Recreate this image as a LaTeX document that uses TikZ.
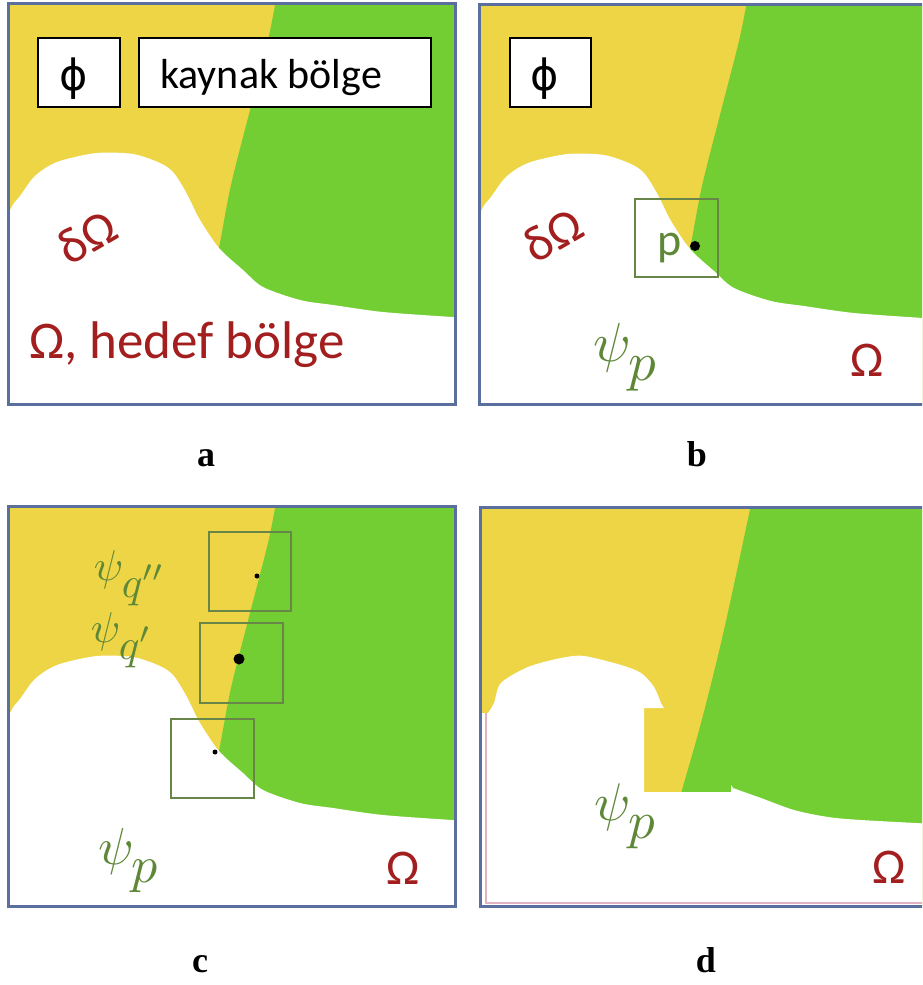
\documentclass[tikz,border=0pt]{standalone}
\usepackage{fontspec}
\setmainfont{Carlito}
\newfontfamily\capfont{Liberation Serif}
\newfontfamily\phifont{DejaVu Sans}

\definecolor{sand}{RGB}{237,213,70}
\definecolor{leaf}{RGB}{115,206,52}
\definecolor{framec}{RGB}{91,111,158}
\definecolor{probec}{RGB}{104,134,72}
\definecolor{omegared}{RGB}{163,30,30}
\definecolor{psigreen}{RGB}{94,136,56}
\definecolor{seam}{RGB}{226,178,194}

% source/target split shared by panels a, b, c (panel-a coordinates)
\newcommand{\SourceSplit}{plot[smooth] coordinates {(276,0) (268,40) (250,110) (231,185) (219,248) (208,300)} -- (208,420) -- (470,420) -- (470,0) -- cycle}
\newcommand{\TargetHole}{(0,212) -- plot[smooth] coordinates {(9,212) (14,203) (20,196) (33,178) (47,167) (63,160) (97,153) (133,154) (160,163) (173,172) (183,187) (190,200) (200,220) (219,248) (243,270) (263,287) (300,300) (333,305) (383,312) (452,317) (470,318)} -- (470,420) -- (0,420) -- cycle}
% green psi with a lowered subscript
\newcommand{\psisub}[1]{$\psi_{\lower2pt\hbox{$#1$}}$}

\begin{document}
\begin{tikzpicture}[x=1pt,y=-1pt,
  panelframe/.style={draw=framec, line width=3pt},
  tagbox/.style={draw=black, line width=2pt, fill=white},
  probebox/.style={draw=probec, line width=1.6pt},
  tagtext/.style={font=\fontsize{42}{50}\selectfont, inner sep=0pt},
  phitext/.style={font=\phifont\fontsize{43}{50}\selectfont, inner sep=0pt},
  redlbl/.style={text=omegared, font=\fontsize{50}{60}\selectfont, inner sep=0pt},
  psilbl/.style={text=psigreen, inner sep=0pt, anchor=base west},
  caplbl/.style={font=\capfont\bfseries\fontsize{36}{42}\selectfont, inner sep=0pt, anchor=base},
  seed/.style={circle, fill=black, inner sep=0pt}]
\useasboundingbox (0,0) rectangle (922,985);
\clip (0,0) rectangle (922,985);

% ---------- panel a ----------
\begin{scope}
  \clip (10,5) rectangle (454,403);
  \fill[sand] (0,0) rectangle (470,420);
  \fill[leaf] \SourceSplit;
  \fill[white] \TargetHole;
\end{scope}
\draw[panelframe] (8.5,3.5) rectangle (455.5,404.5);
\draw[tagbox] (38,38) rectangle (120,107);
\draw[tagbox] (139,38) rectangle (431,107);
\node[phitext] (phiA) at (74,79) {ϕ};
\node[tagtext, anchor=base west] (srcA) at (160,88) {kaynak bölge};
\node[redlbl, rotate=30] (bndA) at (87,237) {δΩ};
\node[redlbl, font=\fontsize{53}{62}\selectfont, anchor=base west] (tgtA) at (29,358) {Ω, hedef bölge};
\node[caplbl] (capA) at (206,466) {a};

% ---------- panel b ----------
\begin{scope}[shift={(471,1)}]
  \clip (10,5) rectangle (470,403);
  \fill[sand] (0,0) rectangle (470,420);
  \fill[leaf] \SourceSplit;
  \fill[white] \TargetHole;
\end{scope}
\draw[panelframe] (479.5,4.5) rectangle (930,404.5);
\draw[tagbox] (510,38) rectangle (591,107);
\node[phitext] (phiB) at (545,79) {ϕ};
\node[redlbl, rotate=30] (bndB) at (553,235) {δΩ};
\draw[probebox] (635,199) rectangle (718,277);
\node[font=\fontsize{46}{54}\selectfont, text=psigreen, anchor=base west, inner sep=0pt] (pB) at (657,255) {p};
\node[seed, minimum size=10pt] (ptB) at (695,246) {};
\node[psilbl, scale=5.5] (psiB) at (592,361) {\psisub{p}};
\node[redlbl, anchor=base] (omB) at (867,376) {Ω};
\node[caplbl] (capB) at (697,466) {b};

% ---------- panel c ----------
\begin{scope}[shift={(0,503)}]
  \clip (10,5) rectangle (454,403);
  \fill[sand] (0,0) rectangle (470,420);
  \fill[leaf] \SourceSplit;
  \fill[white] \TargetHole;
\end{scope}
\draw[panelframe] (8.5,506.5) rectangle (455.5,906.5);
\draw[probebox] (209,532) rectangle (291,611);
\draw[probebox] (200,623) rectangle (283,703);
\draw[probebox] (171,719) rectangle (254,798);
\node[seed, minimum size=5pt] (qtwo) at (257,576) {};
\node[seed, minimum size=11pt] (qone) at (239,659) {};
\node[seed, minimum size=5pt] (pC) at (215,752) {};
\node[psilbl, scale=4.3] (psiQtwo) at (93,580) {\psisub{q''}};
\node[psilbl, scale=4.3] (psiQone) at (90,642) {\psisub{q'}};
\node[psilbl, scale=5.2] (psiC) at (97,864) {\psisub{p}};
\node[redlbl, anchor=base] (omC) at (403,884) {Ω};
\node[caplbl] (capC) at (200,972) {c};

% ---------- panel d ----------
\begin{scope}
  \clip (482,509) rectangle (925,905);
  \fill[sand] (470,500) rectangle (935,920);
  \fill[leaf] plot[smooth] coordinates {(752,500) (724,630) (701,723) (679,800)} -- (679,920) -- (935,920) -- (935,500) -- cycle;
  \fill[white] (470,713) -- plot[smooth] coordinates {(488,713) (494,703) (501,683) (528,667) (561,658) (584,656) (621,665) (641,673) (654,687) (661,703) (664,708)} -- (644,708) -- (644,792) -- (731,792) -- (731,785)
    -- plot[smooth] coordinates {(733,788) (744,792) (761,798) (794,810) (828,817) (861,820) (935,824)} -- (935,920) -- (470,920) -- cycle;
  \draw[seam, line width=1.5pt] (486,713) -- (486,903) -- (930,903);
\end{scope}
\draw[panelframe] (480.5,507.5) rectangle (930,906.5);
\node[psilbl, scale=5.3] (psiD) at (593,820) {\psisub{p}};
\node[redlbl, anchor=base] (omD) at (889,883) {Ω};
\node[caplbl] (capD) at (706,972) {d};
\end{tikzpicture}
\end{document}
